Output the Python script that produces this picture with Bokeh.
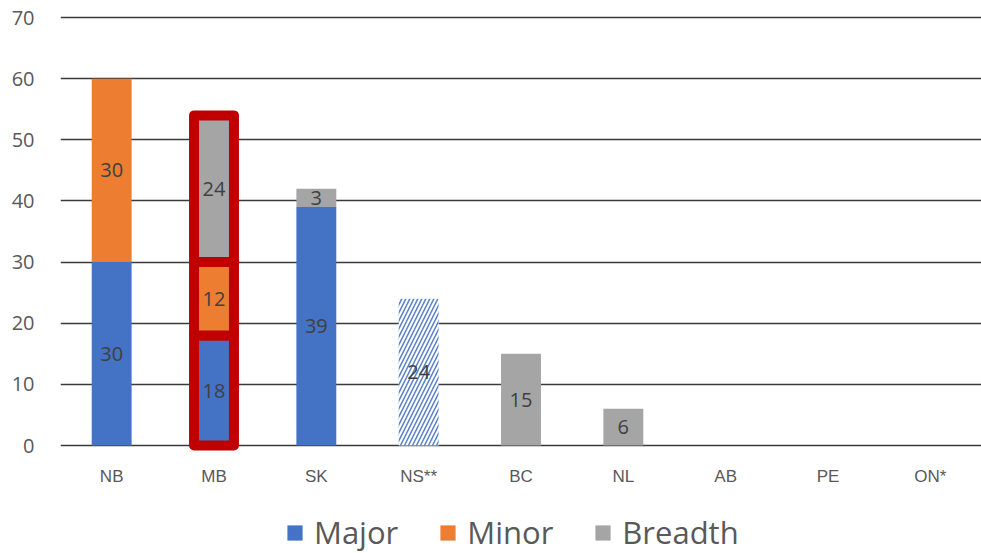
from bokeh.plotting import figure
from bokeh.models import (FactorRange, Legend, LegendItem, FixedTicker, Range1d)
from bokeh.core.properties import value
from bokeh.embed import file_html
from bokeh.resources import INLINE

# ---- data ----
categories = ["NB", "MB", "SK", "NS**", "BC", "NL", "AB", "PE", "ON*"]
major = [30, 18, 39, 0, 0, 0, 0, 0, 0]
minor = [30, 12, 0, 0, 0, 0, 0, 0, 0]
breadth = [0, 24, 3, 0, 15, 6, 0, 0, 0]
planned_major = [0, 0, 0, 24, 0, 0, 0, 0, 0]   # hatched (NS**)
highlight = ["MB"]
series_names = ["Major", "Minor", "Breadth"]
y_ticks = [0, 10, 20, 30, 40, 50, 60, 70]

BLUE, ORANGE, GRAY, RED = "#4472C4", "#ED7D31", "#A5A5A5", "#C00000"
colors = [BLUE, ORANGE, GRAY]

# frame extends to the bottom of the canvas so category labels and legend
# can be drawn inside it
p = figure(x_range=FactorRange(factors=categories, range_padding=0),
           y_range=Range1d(-17.66, 70.5),
           frame_width=921, frame_height=539,
           output_backend="svg", toolbar_location=None,
           min_border_left=60, min_border_right=0, min_border_top=14,
           min_border_bottom=0)
p.outline_line_color = None
p.background_fill_color = "white"
p.border_fill_color = "white"

# grid
p.xgrid.grid_line_color = None
p.ygrid.ticker = FixedTicker(ticks=y_ticks)
p.ygrid.grid_line_color = "#3a3a3a"
p.ygrid.grid_line_width = 1.5

# y axis
p.yaxis.ticker = FixedTicker(ticks=y_ticks)
p.yaxis.axis_line_color = None
p.yaxis.major_tick_line_color = None
p.yaxis.minor_tick_line_color = None
p.yaxis.major_label_text_font = "Open Sans"
p.yaxis.major_label_text_font_size = "20px"
p.yaxis.major_label_text_color = "#595959"
p.yaxis.major_label_standoff = 20

# x axis: hidden, category labels drawn as text below zero
p.xaxis.visible = False

BAR_W = 0.39
label_x, label_y, label_t = [], [], []

bottoms = [0] * len(categories)
for name, vals, col in zip(series_names, [major, minor, breadth], colors):
    nx, nb, nt = [], [], []
    hx, hb, ht = [], [], []
    for i, c in enumerate(categories):
        v = vals[i]
        if v > 0:
            if c in highlight:
                hx.append(c); hb.append(bottoms[i]); ht.append(bottoms[i] + v)
            else:
                nx.append(c); nb.append(bottoms[i]); nt.append(bottoms[i] + v)
            label_x.append(c); label_y.append(bottoms[i] + v / 2); label_t.append(str(v))
        bottoms[i] += v
    p.vbar(x=nx, bottom=nb, top=nt, width=BAR_W, fill_color=col, line_color=None)
    p.vbar(x=hx, bottom=hb, top=ht, width=BAR_W, fill_color=col,
           line_color=RED, line_width=10, line_join="round")

# hatched bar
hx = [c for c, v in zip(categories, planned_major) if v > 0]
ht = [v for v in planned_major if v > 0]
p.vbar(x=hx, bottom=0, top=ht, width=BAR_W, fill_color="white", line_color=None,
       hatch_pattern="/", hatch_color=BLUE, hatch_scale=8, hatch_weight=1.5,
       hatch_alpha=0.9)
for c, v in zip(hx, ht):
    label_x.append(c); label_y.append(v / 2); label_t.append(str(v))

p.text(x=label_x, y=label_y, text=label_t, text_align="center",
       text_baseline="middle", text_font=value("Open Sans"),
       text_font_size="20px", text_color="#404040")

# category labels
p.text(x=categories, y=[-5.1] * len(categories), text=categories,
       text_align="center", text_baseline="middle",
       text_font=value("Liberation Sans"), text_font_size="17px",
       text_color="#595959")

# legend (bottom of the frame)
items = []
for name, col in zip(series_names, colors):
    r = p.vbar(x=["NB"], top=[0], bottom=[0], width=BAR_W, fill_color=col,
               line_color=None)
    items.append(LegendItem(label=name, renderers=[r]))
legend = Legend(items=items, orientation="horizontal", location=(225, 0),
                label_text_font="Open Sans", label_text_font_size="31px",
                label_text_color="#595959", glyph_width=19, glyph_height=19,
                spacing=40, label_standoff=10, border_line_color=None,
                background_fill_alpha=0, padding=0, margin=0)
p.add_layout(legend, "center")

open("out.html", "w").write(file_html(p, INLINE))
